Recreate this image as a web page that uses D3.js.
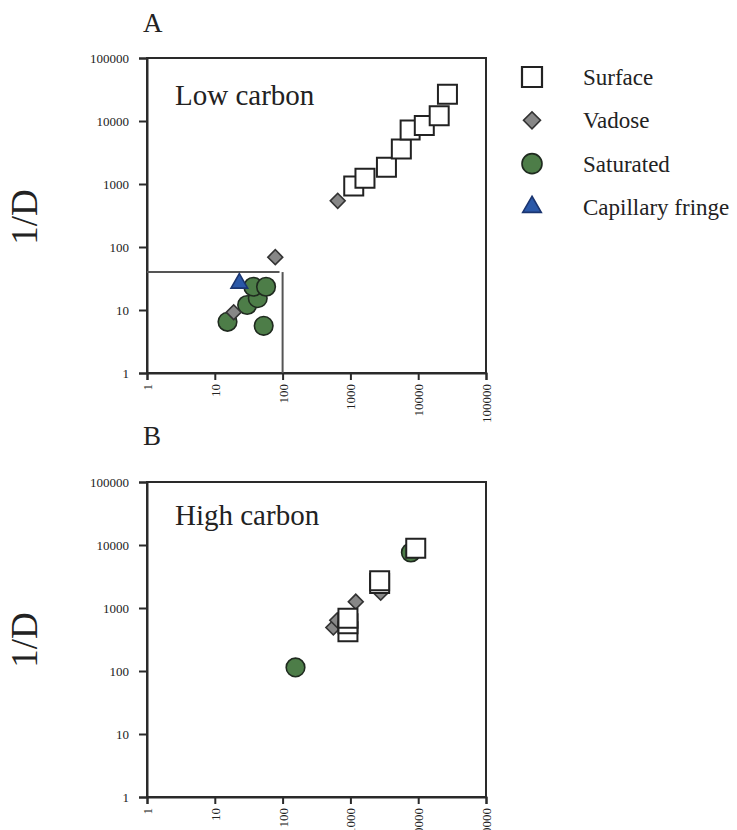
<!DOCTYPE html>
<html><head><meta charset="utf-8">
<script src="https://cdn.jsdelivr.net/npm/d3@7"></script>
<style>
body{margin:0;background:#fff;}
svg{display:block;font-family:"Liberation Serif","Times New Roman",serif;}
</style></head>
<body><svg id="c" width="737" height="830"></svg>
<script>
const tickValues = [1, 10, 100, 1000, 10000, 100000];
const seriesNames = ["Surface", "Vadose", "Saturated", "Capillary fringe"];

// Panel A (Low carbon): [x, 1/D]
const surfaceA = [[1120, 930], [1640, 1230], [3400, 1850], [5640, 3600], [7600, 7200], [12300, 8500], [20400, 12100], [27000, 26600]];
const vadoseA = [[650, 540], [78, 69], [19, 9.2]];
const saturatedA = [[15.4, 6.5], [52.6, 5.6], [30, 12], [43, 15.4], [37, 23.4], [57, 23.4]];
const capillaryA = [[23, 26.5]];
const refHLineA = [[1, 40], [90, 40]];
const refVLineA = [[100, 1], [100, 40]];

// Panel B (High carbon)
const surfaceB = [[920, 420], [920, 560], [920, 690], [2700, 2450], [2700, 2700], [9200, 8900]];
const vadoseB = [[560, 490], [640, 640], [1200, 1260], [2800, 1750]];
const saturatedB = [[155, 114], [7800, 7600]];
const capillaryB = [];

const svg = d3.select("#c");
const x = d3.scaleLog().domain([1, 100000]).range([147, 486]);

const colors = {
  surface: {fill: "#ffffff", stroke: "#222"},
  vadose: {fill: "#878787", stroke: "#333"},
  saturated: {fill: "#4d7d48", stroke: "#1f2a1f"},
  capillary: {fill: "#2a58a8", stroke: "#1b3570"}
};

function makeSymbols(sq, dia, circR, tri) {
  return {
    surface: {gen: d3.symbol().type(d3.symbolSquare).size(sq * sq), rot: 0},
    vadose: {gen: d3.symbol().type(d3.symbolSquare).size(dia * dia), rot: 45},
    saturated: {gen: d3.symbol().type(d3.symbolCircle).size(Math.PI * circR * circR), rot: 0},
    capillary: {gen: d3.symbol().type(d3.symbolTriangle).size(tri), rot: 0}
  };
}

function drawPanel(top, bottom, title, letter, letterY, titleY, labelY, data, refs) {
  const y = d3.scaleLog().domain([1, 100000]).range([bottom, top]);
  const g = svg.append("g");
  g.append("rect").attr("x", x.range()[0]).attr("y", top)
    .attr("width", x.range()[1] - x.range()[0]).attr("height", bottom - top)
    .attr("fill", "none").attr("stroke", "#2a2a2a").attr("stroke-width", 2);
  const ya = g.append("g").attr("transform", `translate(${x.range()[0]},0)`)
    .call(d3.axisLeft(y).tickValues(tickValues).tickFormat(d3.format("d")).tickSize(8).tickPadding(10));
  const xa = g.append("g").attr("transform", `translate(0,${bottom})`)
    .call(d3.axisBottom(x).tickValues(tickValues).tickFormat(d3.format("d")).tickSize(7));
  [ya, xa].forEach(a => {
    a.select(".domain").attr("stroke", "#2a2a2a").attr("stroke-width", 2);
    a.selectAll(".tick line").attr("stroke", "#2a2a2a").attr("stroke-width", 2);
    a.selectAll("text").attr("font-family", "Liberation Serif, serif").attr("font-size", 13).attr("fill", "#222");
  });
  xa.selectAll(".tick text")
    .attr("transform", "rotate(-90)")
    .attr("text-anchor", "end")
    .attr("x", -11).attr("y", 0).attr("dy", "0.35em");
  const line = d3.line().x(d => x(d[0])).y(d => y(d[1]));
  refs.forEach(r => g.append("path").attr("d", line(r)).attr("fill", "none")
    .attr("stroke", "#555").attr("stroke-width", 2));
  const sym = makeSymbols(19, 10.5, 9.3, 120);
  const order = ["saturated", "capillary", "vadose", "surface"];
  order.forEach(k => {
    g.selectAll(null).data(data[k]).enter().append("path")
      .attr("d", sym[k].gen())
      .attr("transform", d => `translate(${x(d[0])},${y(d[1])}) rotate(${sym[k].rot})`)
      .attr("fill", colors[k].fill).attr("stroke", colors[k].stroke)
      .attr("stroke-width", k === "surface" ? 2 : 1.6);
  });
  svg.append("text").attr("x", 143).attr("y", letterY).attr("font-size", 27).attr("fill", "#222").text(letter);
  svg.append("text").attr("x", x(1) + 28).attr("y", titleY).attr("font-size", 29).attr("fill", "#222").text(title);
  svg.append("text").attr("transform", `translate(37,${labelY}) rotate(-90)`)
    .attr("text-anchor", "middle").attr("font-size", 37).attr("fill", "#222").text("1/D");
}

drawPanel(58, 373, "Low carbon", "A", 32, 105, 217,
  {surface: surfaceA, vadose: vadoseA, saturated: saturatedA, capillary: capillaryA},
  [refHLineA, refVLineA]);
drawPanel(482, 797, "High carbon", "B", 445, 525, 640,
  {surface: surfaceB, vadose: vadoseB, saturated: saturatedB, capillary: capillaryB},
  []);

// Legend
const legKeys = ["surface", "vadose", "saturated", "capillary"];
const legY = d3.scalePoint().domain(legKeys).range([77, 207]);
const legSym = makeSymbols(20, 12, 10, 150);
const leg = svg.append("g");
legKeys.forEach((k, i) => {
  leg.append("path").attr("d", legSym[k].gen())
    .attr("transform", `translate(532,${legY(k)}) rotate(${legSym[k].rot})`)
    .attr("fill", colors[k].fill).attr("stroke", colors[k].stroke)
    .attr("stroke-width", k === "surface" ? 2.2 : 1.6);
  leg.append("text").attr("x", 583).attr("y", legY(k)).attr("dy", "0.35em")
    .attr("font-size", 23).attr("fill", "#222").text(seriesNames[i]);
});
</script></body></html>
